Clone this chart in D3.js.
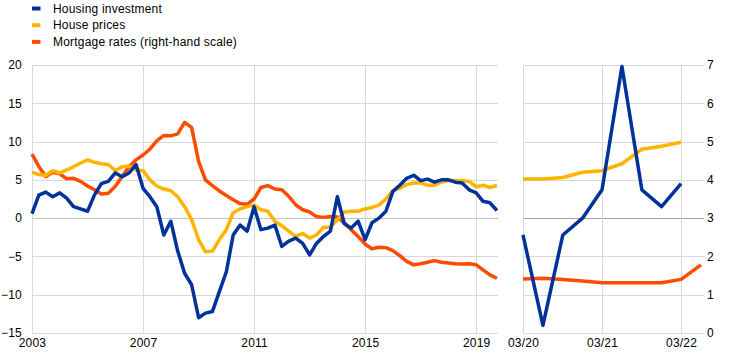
<!DOCTYPE html>
<html>
<head>
<meta charset="utf-8">
<script src="https://cdn.jsdelivr.net/npm/d3@7"></script>
<style>
  html, body { margin: 0; padding: 0; background: #fff; }
  svg { display: block; font-family: "Liberation Sans", Arial, sans-serif; }
  text { fill: #000; font-size: 12px; letter-spacing: 0.2px; }
</style>
</head>
<body>
<svg id="chart" width="742" height="359"></svg>
<script>
// ---------- data ----------
const seriesNames = ["Housing investment", "House prices", "Mortgage rates (right-hand scale)"];
const seriesColors = ["#003299", "#FFB400", "#FF4B00"];

// Left panel: quarterly, 2003Q1 - 2019Q4
const leftStart = "2003-01-01";
const housingInvestment = [0.6, 3.0, 3.4, 2.8, 3.3, 2.6, 1.5, 1.2, 0.9, 3.0, 4.5, 4.8, 5.9, 5.4, 5.9, 7.0,
  3.9, 2.8, 1.5, -2.2, -0.4, -4.3, -7.2, -8.7, -13.0, -12.4, -12.2, -9.6, -7.0, -2.2, -0.9, -1.7,
  1.5, -1.5, -1.3, -0.9, -3.7, -3.0, -2.6, -3.3, -4.8, -3.3, -2.4, -1.7, 2.8, -0.7, -1.3, -0.4,
  -2.8, -0.6, 0.0, 0.9, 3.5, 4.3, 5.2, 5.6, 4.9, 5.1, 4.7, 5.0, 5.0, 4.7, 4.6, 3.7, 3.3, 2.2, 2.0, 1.0];
const housePrices = [6.0, 5.7, 5.6, 6.2, 5.9, 6.3, 6.7, 7.2, 7.6, 7.3, 7.1, 7.0, 6.2, 6.7, 6.8, 6.3,
  6.2, 5.0, 4.2, 3.8, 3.6, 2.8, 1.5, -0.2, -2.8, -4.4, -4.3, -2.8, -1.5, 0.7, 1.2, 1.5,
  1.7, 1.1, 0.9, -0.4, -1.0, -1.7, -2.4, -2.0, -2.6, -2.2, -1.2, -1.2, -0.2, 0.8, 0.9, 0.9,
  1.2, 1.4, 1.7, 2.5, 3.6, 3.9, 4.4, 4.6, 4.6, 4.3, 4.3, 4.7, 4.9, 4.9, 4.9, 4.8, 4.1, 4.3, 4.0, 4.3];
const mortgageRates = [4.67, 4.35, 4.09, 4.20, 4.16, 4.03, 4.04, 3.96, 3.84, 3.74, 3.63, 3.65, 3.83, 4.09, 4.35, 4.52,
  4.65, 4.80, 5.02, 5.16, 5.15, 5.20, 5.50, 5.37, 4.48, 4.00, 3.85, 3.71, 3.59, 3.48, 3.38, 3.36,
  3.50, 3.80, 3.85, 3.76, 3.74, 3.57, 3.35, 3.22, 3.16, 3.04, 3.02, 3.04, 3.03, 2.87, 2.70, 2.52,
  2.32, 2.20, 2.24, 2.23, 2.15, 2.02, 1.87, 1.78, 1.81, 1.85, 1.89, 1.85, 1.83, 1.81, 1.80, 1.81, 1.78, 1.65, 1.52, 1.43];

// Right panel: quarterly, 03/20 - 03/22 (mortgage rates one more point)
const rightDates = ["2020-03-01", "2020-06-01", "2020-09-01", "2020-12-01", "2021-03-01",
  "2021-06-01", "2021-09-01", "2021-12-01", "2022-03-01", "2022-06-01"];
const housingInvestmentR = [-2.2, -14.0, -2.2, 0.0, 3.7, 19.8, 3.7, 1.5, 4.5];
const housePricesR = [5.1, 5.1, 5.3, 6.0, 6.2, 7.1, 9.0, 9.4, 9.9];
const mortgageRatesR = [1.41, 1.43, 1.40, 1.36, 1.31, 1.31, 1.31, 1.31, 1.40, 1.78];

const leftTicks = [-15, -10, -5, 0, 5, 10, 15, 20];
const rightTicks = [0, 1, 2, 3, 4, 5, 6, 7];
const leftXTicks = ["2003", "2007", "2011", "2015", "2019"];
const rightXTicks = ["2020-03-01", "2021-03-01", "2022-03-01"];

// ---------- layout ----------
const parse = d3.utcParse("%Y-%m-%d");
const plotTop = 65, plotBottom = 333;
const L = { x0: 32, x1: 498 };
const R = { x0: 523, x1: 704 };
const FONT = "Liberation Sans, Arial, sans-serif";

const svg = d3.select("#chart");

const yL = d3.scaleLinear().domain([-15, 20]).range([plotBottom, plotTop]);
const yR = d3.scaleLinear().domain([0, 7]).range([plotBottom, plotTop]);

const leftDates = d3.range(housingInvestment.length).map(i => d3.utcMonth.offset(parse(leftStart), 3 * i));
const xL = d3.scaleUtc().domain([parse("2003-01-01"), parse("2019-10-15")]).range([L.x0, L.x1]);
const xR = d3.scaleUtc().domain([parse("2020-03-01"), parse("2022-06-15")]).range([R.x0, R.x1]);

const grid = svg.append("g").attr("shape-rendering", "crispEdges");

// horizontal grid lines
function hGrid(x0, x1, zeroColor) {
  leftTicks.forEach(t => {
    grid.append("line")
      .attr("x1", x0).attr("x2", x1)
      .attr("y1", Math.round(yL(t)) + 0.5).attr("y2", Math.round(yL(t)) + 0.5)
      .attr("stroke", t === 0 ? zeroColor : "#d9d9d9").attr("stroke-width", 1);
  });
}
hGrid(L.x0, L.x1, "#c4c4c4");
hGrid(R.x0, R.x1, "#a3a3a3");

// vertical grid lines
const vLeft = [parse("2003-01-01")].concat(leftXTicks.slice(1).map(y => parse(y + "-01-01")));
vLeft.forEach(d => {
  grid.append("line")
    .attr("x1", Math.round(xL(d)) + 0.5).attr("x2", Math.round(xL(d)) + 0.5)
    .attr("y1", plotTop).attr("y2", plotBottom)
    .attr("stroke", "#d9d9d9");
});
rightXTicks.forEach(s => {
  const d = parse(s);
  grid.append("line")
    .attr("x1", Math.round(xR(d)) + 0.5).attr("x2", Math.round(xR(d)) + 0.5)
    .attr("y1", plotTop).attr("y2", plotBottom)
    .attr("stroke", "#d9d9d9");
});

function styleAxis(g) {
  g.select(".domain").remove();
  g.selectAll("text").attr("font-size", 12).attr("font-family", FONT).attr("fill", "#000");
}

// axes labels
const gyL = svg.append("g").attr("transform", `translate(${L.x0},0)`)
  .call(d3.axisLeft(yL).tickValues(leftTicks).tickFormat(d3.format("d")).tickSize(0).tickPadding(10));
styleAxis(gyL);

const gyR = svg.append("g").attr("transform", `translate(${R.x1},0)`)
  .call(d3.axisRight(yR).tickValues(rightTicks).tickFormat(d3.format("d")).tickSize(0).tickPadding(3));
styleAxis(gyR);

const gxL = svg.append("g").attr("transform", `translate(0,${plotBottom})`)
  .call(d3.axisBottom(xL).tickValues(leftXTicks.map(y => parse(y + "-01-01")))
    .tickFormat(d3.utcFormat("%Y")).tickSize(0).tickPadding(5));
styleAxis(gxL);

const gxR = svg.append("g").attr("transform", `translate(0,${plotBottom})`)
  .call(d3.axisBottom(xR).tickValues(rightXTicks.map(parse))
    .tickFormat(d3.utcFormat("%m/%y")).tickSize(0).tickPadding(5));
styleAxis(gxR);

// ---------- lines ----------
function drawLine(data, x, y, color) {
  const line = d3.line().x(d => x(d[0])).y(d => y(d[1]));
  svg.append("path").datum(data)
    .attr("d", line)
    .attr("fill", "none")
    .attr("stroke", color)
    .attr("stroke-width", 3.5)
    .attr("stroke-linejoin", "round");
}
const zip = (dates, vals) => vals.map((v, i) => [dates[i], v]);
const rDates = rightDates.map(parse);

drawLine(zip(leftDates, mortgageRates), xL, yR, seriesColors[2]);
drawLine(zip(leftDates, housePrices), xL, yL, seriesColors[1]);
drawLine(zip(leftDates, housingInvestment), xL, yL, seriesColors[0]);

drawLine(zip(rDates, mortgageRatesR), xR, yR, seriesColors[2]);
drawLine(zip(rDates, housePricesR), xR, yL, seriesColors[1]);
drawLine(zip(rDates, housingInvestmentR), xR, yL, seriesColors[0]);

// ---------- legend ----------
const legend = svg.append("g");
seriesNames.forEach((name, i) => {
  const yy = 8.5 + i * 16.7;
  legend.append("rect").attr("x", 32).attr("y", yy - 2).attr("width", 8.5).attr("height", 4)
    .attr("fill", seriesColors[i]);
  legend.append("text").attr("x", 53).attr("y", yy).attr("dy", "0.35em")
    .attr("font-size", 12).attr("font-family", FONT).text(name);
});
</script>
</body>
</html>
